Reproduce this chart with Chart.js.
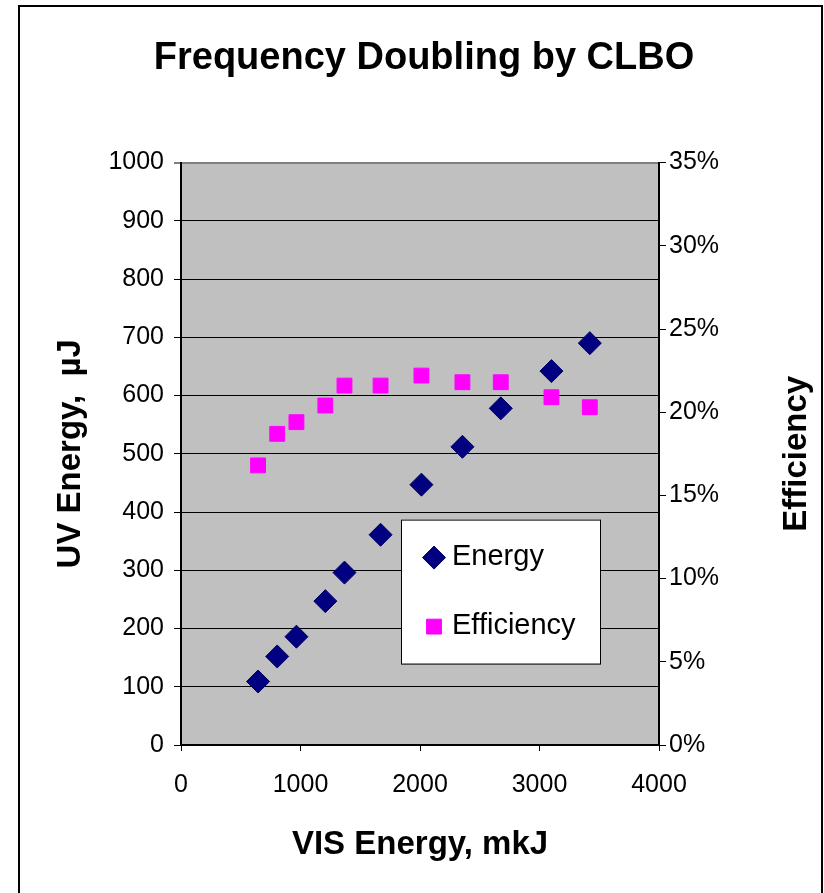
<!DOCTYPE html>
<html>
<head>
<meta charset="utf-8">
<script src="https://cdn.jsdelivr.net/npm/chart.js@4.4.1/dist/chart.umd.min.js"></script>
<style>
  html, body { margin: 0; padding: 0; background: #fff; }
  canvas { display: block; }
</style>
</head>
<body>
<canvas id="chart" width="824" height="893"></canvas>
<script>
// values
const visEnergy = [645, 805, 966, 1208, 1368, 1670, 2012, 2355, 2676, 3100, 3421];
const uvEnergy = [109, 152, 186, 247, 296, 361, 447, 512, 578, 642, 690];
const efficiency = [16.8, 18.7, 19.4, 20.4, 21.6, 21.6, 22.2, 21.8, 21.8, 20.9, 20.3];

const xRange = [0, 4000, 1000];
const uvRange = [0, 1000, 100];
const effRange = [0, 35, 5];

const FONT = "'Liberation Sans', Arial, sans-serif";

const energyPoints = visEnergy.map((x, i) => ({ x: x, y: uvEnergy[i] }));
const effPoints = visEnergy.map((x, i) => ({ x: x, y: efficiency[i] }));

// grey plot area, outer frame, right axis title and the boxed legend
const decor = {
  id: 'decor',
  beforeDraw(chart) {
    const { ctx, chartArea: a } = chart;
    ctx.save();
    ctx.fillStyle = '#C0C0C0';
    ctx.fillRect(a.left, a.top, a.right - a.left, a.bottom - a.top);
    ctx.strokeStyle = '#000';
    ctx.lineWidth = 2;
    ctx.beginPath();
    ctx.moveTo(19, chart.height);
    ctx.lineTo(19, 6);
    ctx.lineTo(822, 6);
    ctx.lineTo(822, chart.height);
    ctx.stroke();
    ctx.restore();
  },
  afterDraw(chart) {
    const { ctx, chartArea: a } = chart;
    ctx.save();
    // right axis title, reads bottom to top
    ctx.translate(797, (a.top + a.bottom) / 2);
    ctx.rotate(-Math.PI / 2);
    ctx.font = 'bold 33px ' + FONT;
    ctx.fillStyle = '#000';
    ctx.textAlign = 'center';
    ctx.textBaseline = 'middle';
    ctx.fillText('Efficiency', 0, 0);
    ctx.restore();

    // legend box
    const bx = a.left + 220, by = a.top + 357, bw = 199, bh = 144;
    ctx.save();
    ctx.fillStyle = '#fff';
    ctx.fillRect(bx, by, bw, bh);
    ctx.strokeStyle = '#000';
    ctx.lineWidth = 1;
    ctx.strokeRect(bx + 0.5, by + 0.5, bw, bh);
    chart.data.datasets.forEach((ds, i) => {
      const cy = by + 38 + i * 69;
      ctx.fillStyle = ds.backgroundColor;
      ctx.strokeStyle = ds.borderColor;
      ctx.lineWidth = 1;
      Chart.helpers.drawPoint(ctx, { pointStyle: ds.pointStyle, radius: ds.pointRadius, borderWidth: 1, rotation: 0 }, bx + 33, cy);
      ctx.fillStyle = '#000';
      ctx.font = '29px ' + FONT;
      ctx.textAlign = 'left';
      ctx.textBaseline = 'middle';
      ctx.fillText(ds.label, bx + 51, cy - 1);
    });
    ctx.restore();
  }
};

new Chart(document.getElementById('chart'), {
  type: 'scatter',
  data: {
    datasets: [
      {
        label: 'Energy',
        data: energyPoints,
        yAxisID: 'y',
        pointStyle: 'rectRot',
        pointRadius: 11.5,
        backgroundColor: '#000080',
        borderColor: '#000060',
        borderWidth: 1
      },
      {
        label: 'Efficiency',
        data: effPoints,
        yAxisID: 'y1',
        pointStyle: 'rect',
        pointRadius: 10.5,
        backgroundColor: '#FF00FF',
        borderColor: '#FF00FF',
        borderWidth: 1
      }
    ]
  },
  options: {
    responsive: false,
    animation: false,
    layout: { padding: { left: 24, right: 0, top: 0, bottom: 0 } },
    plugins: {
      legend: { display: false },
      tooltip: { enabled: false },
      title: {
        display: true,
        text: 'Frequency Doubling by CLBO',
        color: '#000',
        font: { family: FONT, size: 38, weight: 'bold' },
        padding: { top: 36, bottom: 81 }
      }
    },
    scales: {
      x: {
        type: 'linear',
        min: xRange[0], max: xRange[1],
        afterFit(s) { s.height = 148; },
        ticks: { stepSize: xRange[2], color: '#000', padding: 19, maxRotation: 0,
          font: { family: FONT, size: 25 }, callback: v => String(v) },
        grid: { drawOnChartArea: false, drawTicks: true, tickLength: 6, color: '#000' },
        border: { color: '#000', width: 2 },
        title: { display: true, text: 'VIS Energy, mkJ', color: '#000',
          font: { family: FONT, size: 33, weight: 'bold' }, padding: { top: 0, bottom: 28 } }
      },
      y: {
        type: 'linear',
        position: 'left',
        min: uvRange[0], max: uvRange[1],
        afterFit(s) { s.width = 157; },
        ticks: { stepSize: uvRange[2], color: '#000', padding: 10,
          font: { family: FONT, size: 25 }, callback: v => String(v) },
        grid: {
          tickLength: 7,
          color: c => (c.tick && c.tick.value === uvRange[1]) ? '#808080' : '#000',
          lineWidth: c => (c.tick && c.tick.value === uvRange[1]) ? 2 : 1
        },
        border: { color: '#000', width: 2 },
        title: { display: true, text: 'UV Energy,  \u00B5J', color: '#000',
          font: { family: FONT, size: 33, weight: 'bold' }, padding: { top: 27, bottom: 0 } }
      },
      y1: {
        type: 'linear',
        position: 'right',
        min: effRange[0], max: effRange[1],
        afterFit(s) { s.width = 165; },
        ticks: { stepSize: effRange[2], color: '#000', padding: 3,
          font: { family: FONT, size: 25 },
          callback: v => v + '%' },
        grid: { drawOnChartArea: false, tickLength: 7, color: '#000' },
        border: { color: '#000', width: 2 }
      }
    }
  },
  plugins: [decor]
});
</script>
</body>
</html>
